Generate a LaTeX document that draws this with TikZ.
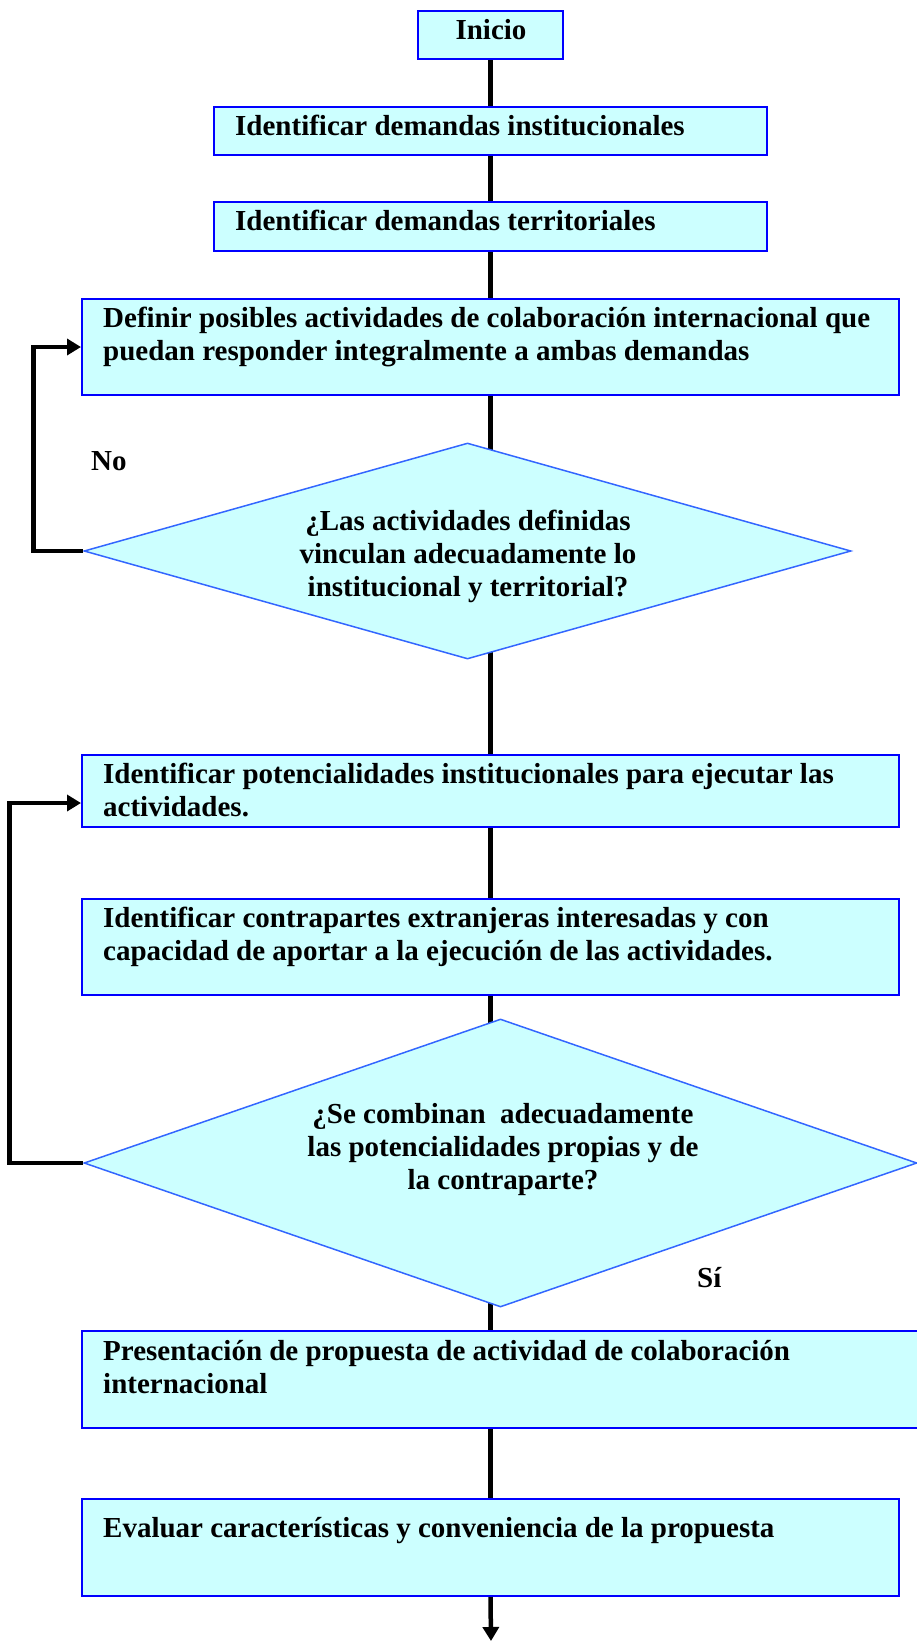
\documentclass[tikz,border=0pt]{standalone}
\usepackage{fontspec}
\setmainfont{Liberation Serif}
\usetikzlibrary{arrows.meta,shapes.geometric,backgrounds}
\definecolor{boxcyan}{HTML}{CCFFFF}
\definecolor{edgeblue}{HTML}{0000FF}
\definecolor{diablue}{HTML}{3366FF}
\newcommand{\flowfont}{\fontsize{29}{33}\selectfont\bfseries}

\begin{document}
\begin{tikzpicture}[x=1pt, y=-1pt, >={Triangle[length=14pt,width=16pt]},
    procbox/.style={draw=edgeblue, line width=2pt, fill=boxcyan, inner sep=0pt},
    decision/.style={diamond, draw=diablue, line width=1.5pt, fill=boxcyan, inner sep=0pt},
    boxtext/.style={anchor=north west, inner sep=0pt, align=left, font=\flowfont},
    qtext/.style={anchor=north, inner sep=0pt, align=center, font=\flowfont},
    flow/.style={line width=4.5pt},
    back/.style={line width=4.5pt, ->}]
  \useasboundingbox (0,0) rectangle (917,1642);
  % boxes
  \node[procbox, minimum width=145pt, minimum height=48pt] (inicio) at (490.5,35) {};
  \node[procbox, minimum width=553pt, minimum height=48pt] (instit) at (490.5,131) {};
  \node[procbox, minimum width=553pt, minimum height=49pt] (territ) at (490.5,226.5) {};
  \node[procbox, minimum width=817pt, minimum height=96pt] (defin) at (490.5,347) {};
  \node[decision, minimum width=767pt, minimum height=216pt] (vincul) at (467.5,551) {};
  \node[procbox, minimum width=817pt, minimum height=72pt] (potenc) at (490.5,791) {};
  \node[procbox, minimum width=817pt, minimum height=96pt] (contra) at (490.5,947) {};
  \node[decision, minimum width=833pt, minimum height=288pt] (combin) at (500.5,1163) {};
  \node[procbox, minimum width=860pt, minimum height=97pt] (propu) at (512,1379.5) {};
  \node[procbox, minimum width=817pt, minimum height=97pt] (evalua) at (490.5,1547.5) {};
  % texts
  \node[qtext] (tinicio) at (491,15.9) {\strut Inicio};
  \node[boxtext] (tinstit) at (235,111.9) {\strut Identificar demandas institucionales};
  \node[boxtext] (tterrit) at (235,206.9) {\strut Identificar demandas territoriales};
  \node[boxtext] (tdefin) at (103,303.9)
    {\strut Definir posibles actividades de colaboración internacional que\\
     puedan responder integralmente a ambas demandas};
  \node[qtext] (tvincul) at (468,506.9)
    {\strut ¿Las actividades definidas\\ vinculan adecuadamente lo\\ institucional y territorial?};
  \node[boxtext] (tpotenc) at (103,759.9)
    {\strut Identificar potencialidades institucionales para ejecutar las\\ actividades.};
  \node[boxtext] (tcontra) at (103,903.9)
    {\strut Identificar contrapartes extranjeras interesadas y con\\
     capacidad de aportar a la ejecución de las actividades.};
  \node[qtext] (tcombin) at (503,1099.9)
    {\strut ¿Se combinan~ adecuadamente\\ las potencialidades propias y de\\ la contraparte?};
  \node[boxtext] (tpropu) at (103,1336.9)
    {\strut Presentación de propuesta de actividad de colaboración\\ internacional};
  \node[boxtext] (tevalua) at (103,1513.9) {\strut Evaluar características y conveniencia de la propuesta};
  \node[boxtext] (no) at (91,446.9) {\strut No};
  \node[boxtext] (si) at (697,1263.9) {\strut Sí};
  \coordinate (fin) at (491,1641);
  % connectors
  \begin{pgfonlayer}{background}
    \draw[flow] (inicio.south) -- (instit.north);
    \draw[flow] (instit.south) -- (territ.north);
    \draw[flow] (territ.south) -- (defin.north);
    \draw[flow] (defin.south) -- (defin.south |- vincul.center);
    \draw[flow] (potenc.north |- vincul.center) -- (potenc.north);
    \draw[flow] (potenc.south) -- (contra.north);
    \draw[flow] (contra.south) -- (contra.south |- combin.center);
    \draw[flow] (evalua.north |- combin.center) -- (evalua.north |- propu.north);
    \draw[flow] (evalua.north |- propu.south) -- (evalua.north);
  \end{pgfonlayer}
  \draw[flow,->] (evalua.south) -- (fin);
  \draw[back] (vincul.west) -- ++(-50,0) |- (defin.west);
  \draw[back] (combin.west) -- ++(-74,0) |- ([yshift=-12pt]potenc.west);
\end{tikzpicture}
\end{document}
